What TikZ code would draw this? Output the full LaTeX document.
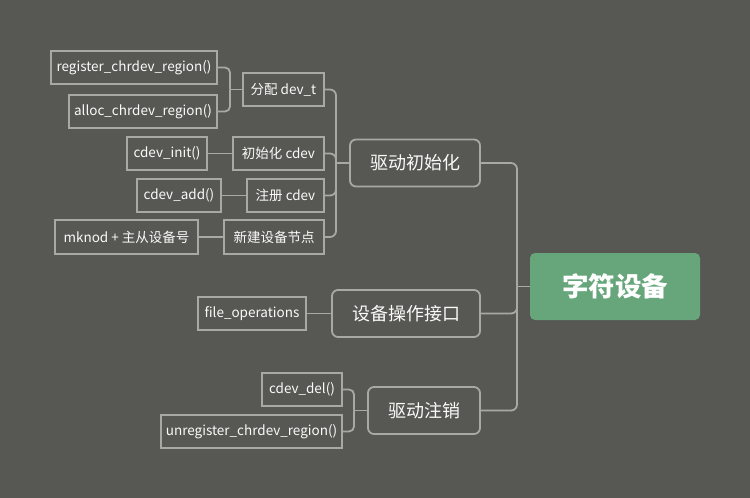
\documentclass[tikz,border=0pt]{standalone}
\usepackage{fontspec}
\setmainfont{Noto Sans CJK SC}
\usetikzlibrary{positioning}
\definecolor{Canvas}{HTML}{575854}
\definecolor{Edge}{HTML}{A8A9A5}
\definecolor{RootGreen}{HTML}{66A67A}
\definecolor{Ink}{HTML}{FAFAFA}
\tikzset{
  rootbox/.style={
    rectangle, rounded corners=5pt, fill=RootGreen, text=white,
    font=\fontsize{26.5}{31}\selectfont\bfseries, minimum width=170pt, minimum height=67pt
  },
  topicbox/.style={rectangle, rounded corners=6pt, draw=Edge, line width=1.8pt, text=Ink, font=\fontsize{18}{21}\selectfont, minimum height=47pt},
  leafbox/.style={rectangle, draw=Edge, line width=1.8pt, text=Ink, font=\fontsize{13.5}{16}\selectfont, minimum height=33pt, inner sep=0pt},
  link/.style={draw=Edge, line width=1.8pt, rounded corners=6pt},
}
\begin{document}
\begin{tikzpicture}[x=1pt, y=-1pt]
    \fill[Canvas] (0,0) rectangle (750,498);
    \useasboundingbox (0,0) rectangle (750,498);
    % root and topics
    \node[rootbox] (root) at (615,286.5) {字符设备};
    \node[topicbox, minimum width=130pt] (init) at (415,163) {驱动初始化};
    \node[topicbox, minimum width=148pt] (ops) at (406,313.5) {设备操作接口};
    \node[topicbox, minimum width=112pt] (exit) at (424,410.5) {驱动注销};
    % init steps
    \node[leafbox, minimum width=81pt] (alloc) at (283.5,89.5) {分配 dev\_t};
    \node[leafbox, minimum width=91pt] (cinit) at (278.5,153.5) {初始化 cdev};
    \node[leafbox, minimum width=77pt] (cadd) at (285.5,195.5) {注册 cdev};
    \node[leafbox, minimum width=100pt, minimum height=34pt] (mknode) at (274,237) {新建设备节点};
    % functions
    \node[leafbox, minimum width=166pt] (regfn) at (134,67.5) {register\_chrdev\_region()};
    \node[leafbox, minimum width=148pt] (allocfn) at (143,111.5) {alloc\_chrdev\_region()};
    \node[leafbox, minimum width=80pt] (initfn) at (167,153.5) {cdev\_init()};
    \node[leafbox, minimum width=84pt] (addfn) at (179,195.5) {cdev\_add()};
    \node[leafbox, minimum width=143pt, minimum height=34pt] (mkfn) at (126.5,237) {mknod + 主从设备号};
    \node[leafbox, minimum width=108pt] (fops) at (252,313.5) {file\_operations};
    \node[leafbox, minimum width=80pt] (delfn) at (302,389.5) {cdev\_del()};
    \node[leafbox, minimum width=181pt] (unregfn) at (251.5,431.5) {unregister\_chrdev\_region()};
    % junctions
    \coordinate (rj) at (517,286.5);
    \coordinate (ij) at (336,163);
    \coordinate (aj) at (230,89.5);
    \coordinate (ej) at (354,410.5);
    \draw[link] (root.west) -- (rj);
    \draw[link] (rj) |- (init.east);
    \draw[link] (rj) |- (ops.east);
    \draw[link] (rj) |- (exit.east);
    \draw[link] (init.west) -- (ij);
    \draw[link] (ij) |- (alloc.east);
    \draw[link] (ij) |- (cinit.east);
    \draw[link] (ij) |- (cadd.east);
    \draw[link] (ij) |- (mknode.east);
    \draw[link] (alloc.west) -- (aj);
    \draw[link, rounded corners=5pt] (aj) |- (regfn.east);
    \draw[link, rounded corners=5pt] (aj) |- (allocfn.east);
    \draw[link] (cinit.west) -- (initfn.east);
    \draw[link] (cadd.west) -- (addfn.east);
    \draw[link] (mknode.west) -- (mkfn.east);
    \draw[link] (ops.west) -- (fops.east);
    \draw[link] (exit.west) -- (ej);
    \draw[link, rounded corners=5pt] (ej) |- (delfn.east);
    \draw[link, rounded corners=5pt] (ej) |- (unregfn.east);
\end{tikzpicture}
\end{document}
